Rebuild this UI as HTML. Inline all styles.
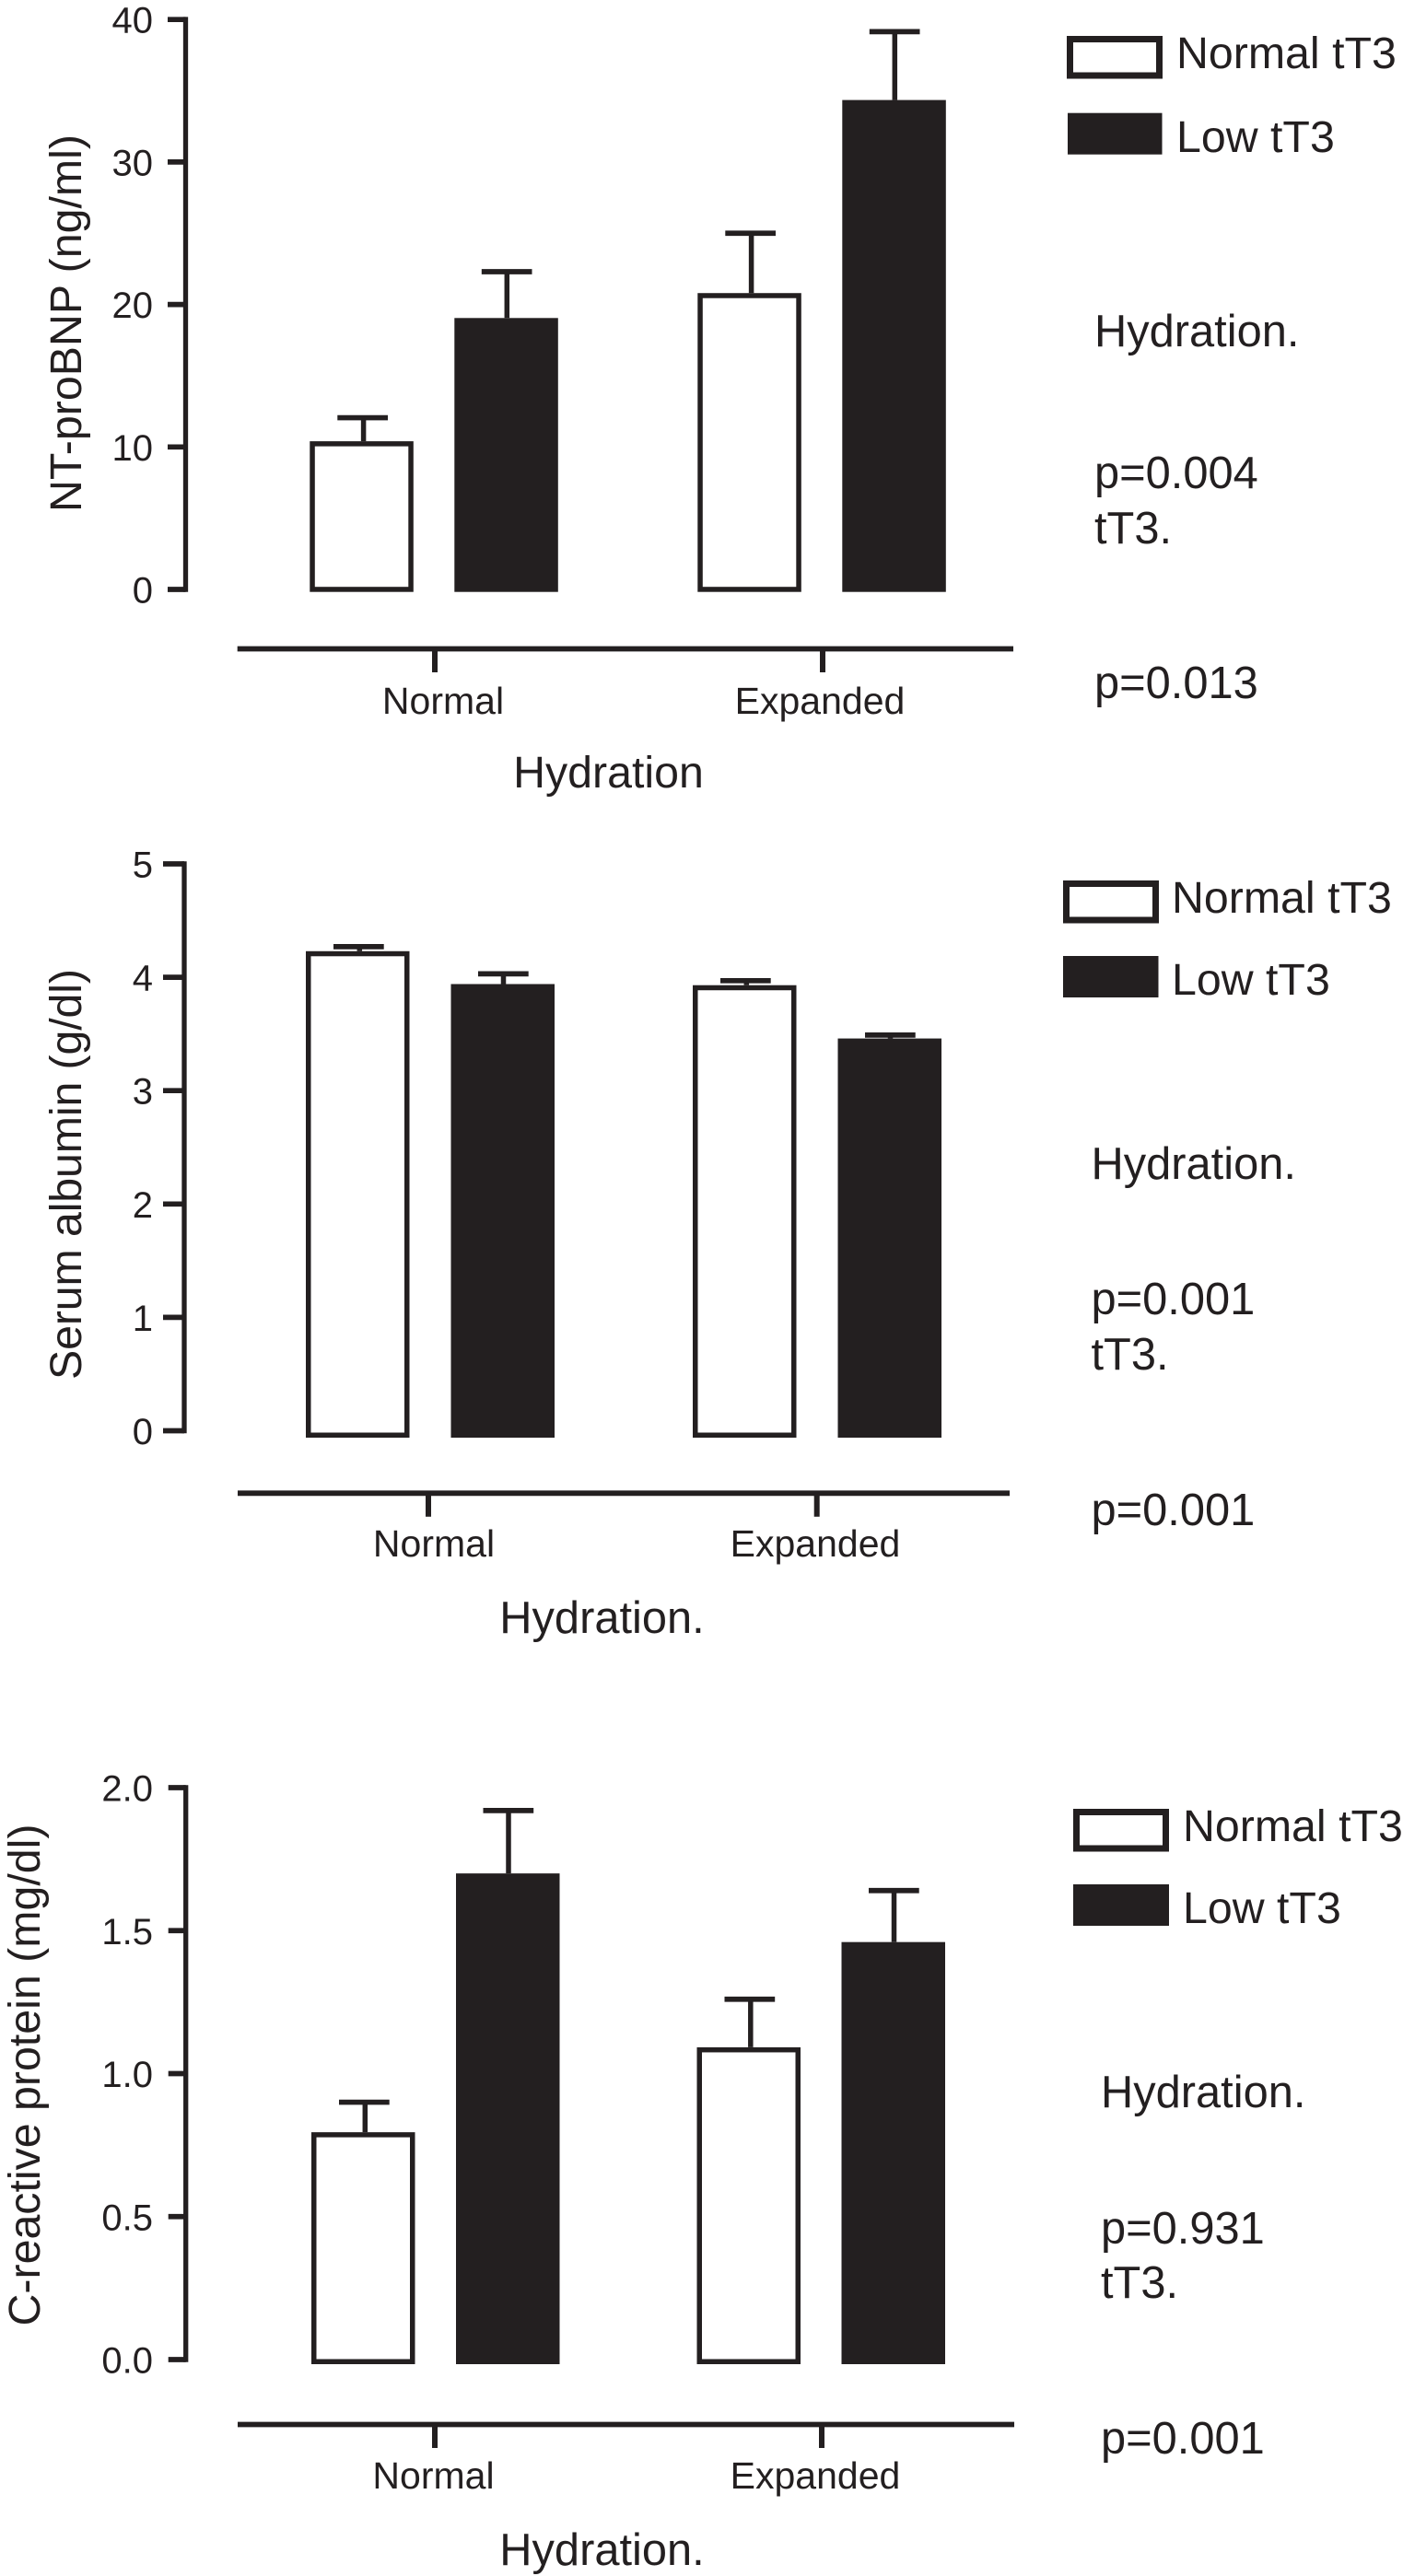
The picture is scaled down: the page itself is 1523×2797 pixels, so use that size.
<!DOCTYPE html>
<html lang="en">
<head>
<meta charset="utf-8">
<title>Hydration and tT3 bar charts</title>
<style>
html,body{margin:0;padding:0;background:#fff;}
svg{display:block;}
text{font-family:"Liberation Sans",Arial,sans-serif;fill:#231f20;}
.lg{font-size:48.3px;}
.st{font-size:48.8px;}
.sm{font-size:40px;}
.cat{font-size:41px;}
</style>
</head>
<body>
<svg id="figure" width="1523" height="2797" viewBox="0 0 1523 2797" xmlns="http://www.w3.org/2000/svg">
  <rect x="0" y="0" width="1523" height="2797" fill="#fff"/>

  <g id="panel-bnp">
    <text class="lg" text-anchor="middle" textLength="410" transform="translate(88 351) rotate(-90)">NT-proBNP (ng/ml)</text>
    <text class="lg" text-anchor="middle" x="660.5" y="855">Hydration</text>
    <rect x="1161.5" y="42.5" width="97" height="39.5" fill="#fff" stroke="#231f20" stroke-width="7"/>
    <rect x="1159" y="122.7" width="102.5" height="45" fill="#231f20"/>
    <text class="lg" x="1277" y="74">Normal tT3</text>
    <text class="lg" x="1277" y="165">Low tT3</text>
    <text class="st" x="1188" y="376">Hydration.</text>
    <text class="st" x="1188" y="530">p=0.004</text>
    <text class="st" x="1188" y="590">tT3.</text>
    <text class="st" x="1188" y="758">p=0.013</text>
  </g>

  <g id="panel-albumin">
    <text class="lg" text-anchor="middle" textLength="446" transform="translate(88 1275) rotate(-90)">Serum albumin (g/dl)</text>
    <text class="st" text-anchor="middle" x="653.5" y="1773">Hydration.</text>
    <rect x="1157.5" y="959.5" width="97" height="39.5" fill="#fff" stroke="#231f20" stroke-width="7"/>
    <rect x="1154" y="1038" width="103.5" height="45" fill="#231f20"/>
    <text class="lg" x="1272" y="991">Normal tT3</text>
    <text class="lg" x="1272" y="1080">Low tT3</text>
    <text class="st" x="1184.5" y="1280">Hydration.</text>
    <text class="st" x="1184.5" y="1427">p=0.001</text>
    <text class="st" x="1184.5" y="1487">tT3.</text>
    <text class="st" x="1184.5" y="1656">p=0.001</text>
  </g>

  <g id="panel-crp">
    <text class="lg" text-anchor="middle" textLength="545" transform="translate(43 2253) rotate(-90)">C-reactive protein (mg/dl)</text>
    <text class="st" text-anchor="middle" x="653.5" y="2785">Hydration.</text>
    <rect x="1168.5" y="1967.5" width="97" height="39.5" fill="#fff" stroke="#231f20" stroke-width="7"/>
    <rect x="1165" y="2046" width="104" height="45" fill="#231f20"/>
    <text class="lg" x="1284" y="1999">Normal tT3</text>
    <text class="lg" x="1284" y="2088">Low tT3</text>
    <text class="st" x="1195" y="2288">Hydration.</text>
    <text class="st" x="1195" y="2436">p=0.931</text>
    <text class="st" x="1195" y="2495">tT3.</text>
    <text class="st" x="1195" y="2664">p=0.001</text>
  </g>
</svg>

<script>
// Shared categories
const hydrationCategories = ['Normal', 'Expanded'];

// NT-proBNP (ng/ml)
const bnpTicks = ['0', '10', '20', '30', '40'];
const bnpNormal = [10.4, 20.8];
const bnpLow = [19.05, 34.35];
const bnpNormalUpper = [12.05, 25.0];
const bnpLowUpper = [22.3, 39.15];

// Serum albumin (g/dl)
const albuminTicks = ['0', '1', '2', '3', '4', '5'];
const albuminNormal = [4.23, 3.93];
const albuminLow = [3.94, 3.46];
const albuminNormalUpper = [4.27, 3.97];
const albuminLowUpper = [4.03, 3.49];

// C-reactive protein (mg/dl)
const crpTicks = ['0.0', '0.5', '1.0', '1.5', '2.0'];
const crpNormal = [0.795, 1.092];
const crpLow = [1.7, 1.46];
const crpNormalUpper = [0.9, 1.26];
const crpLowUpper = [1.92, 1.64];

const INK = '#231f20';
const SVG_NS = 'http://www.w3.org/2000/svg';

function make(tag, parent, attrs) {
  const el = document.createElementNS(SVG_NS, tag);
  for (const k in attrs) el.setAttribute(k, attrs[k]);
  parent.appendChild(el);
  return el;
}

function drawPanel(groupId, ticks, normal, low, normalUpper, lowUpper, geo) {
  const g = document.getElementById(groupId);
  const tickValues = ticks.map(Number);
  const yMin = tickValues[0];
  const yMax = tickValues[tickValues.length - 1];
  // value axis
  const yScale = v => geo.yZero + (v - yMin) / (yMax - yMin) * (geo.yTop - geo.yZero);
  // categorical axis: each group has a centre and two bar slots
  const xCenter = i => geo.groupStart + i * geo.groupStep;

  const axis = make('line', g, {x1: geo.axisX, x2: geo.axisX, y1: yScale(yMax) - 2.8, y2: yScale(yMin) + geo.axisDrop, stroke: INK, 'stroke-width': 5.3});
  
  

  tickValues.forEach((v, i) => {
    const tick = make('line', g, {x1: geo.axisX - geo.tickLen, x2: geo.axisX, y1: yScale(v), y2: yScale(v), stroke: INK, 'stroke-width': 5.7});
    
    
    const label = make('text', g, {x: 166, y: yScale(v) + 14.5, 'text-anchor': 'end', 'class': 'sm'});
    
    
    label.textContent = ticks[i];
  });

  const xLine = make('line', g, {x1: geo.xLineStart, x2: geo.xLineEnd, y1: geo.xLineY, y2: geo.xLineY, stroke: INK, 'stroke-width': 5.8});
  
  

  hydrationCategories.forEach((cat, i) => {
    const tx = geo.tickStart + i * geo.tickStep;
    const tick = make('line', g, {x1: tx, x2: tx, y1: geo.xLineY, y2: geo.xLineY + 25.5, stroke: INK, 'stroke-width': 6});
    
    
    const label = make('text', g, {x: geo.labelStart + i * geo.labelStep, y: geo.labelY, 'text-anchor': 'middle', 'class': 'cat'});
    
    
    label.textContent = cat;

    const barW = 112.5;
    const normalX = xCenter(i) - geo.normalOffset;
    const lowX = xCenter(i);
    const bottom = yScale(yMin) + geo.barDrop;

    // normal tT3 error bar + bar
    const stemN = make('line', g, {x1: normalX + 58.3, x2: normalX + 58.3, y1: yScale(normalUpper[i]), y2: yScale(normal[i]), stroke: INK, 'stroke-width': 5.5});
    
    
    const capN = make('line', g, {x1: normalX + 30, x2: normalX + 84.7, y1: yScale(normalUpper[i]), y2: yScale(normalUpper[i]), stroke: INK, 'stroke-width': 5.7});
    
    
    const barN = make('rect', g, {x: normalX + 2.75, y: yScale(normal[i]) + 2.75, width: barW - 5.5, height: bottom - yScale(normal[i]) - 5.5, fill: '#fff', stroke: INK, 'stroke-width': 5.5});
    
    

    // low tT3 error bar + bar
    const stemL = make('line', g, {x1: lowX + 57, x2: lowX + 57, y1: yScale(lowUpper[i]), y2: yScale(low[i]), stroke: INK, 'stroke-width': 5.5});
    
    
    const capL = make('line', g, {x1: lowX + 29.5, x2: lowX + 84.2, y1: yScale(lowUpper[i]), y2: yScale(lowUpper[i]), stroke: INK, 'stroke-width': 5.7});
    
    
    const barL = make('rect', g, {x: lowX, y: yScale(low[i]), width: barW, height: bottom - yScale(low[i]), fill: INK});
    
    
  });
}

drawPanel('panel-bnp', bnpTicks, bnpNormal, bnpLow, bnpNormalUpper, bnpLowUpper, {
  axisX: 201.5, yZero: 640, yTop: 21.2, tickLen: 19.5, axisDrop: 2.8, barDrop: 2.7,
  groupStart: 493.3, groupStep: 421, normalOffset: 157,
  xLineStart: 257.7, xLineEnd: 1100, xLineY: 704.5,
  tickStart: 472, tickStep: 421,
  labelStart: 481, labelStep: 409, labelY: 775
});

drawPanel('panel-albumin', albuminTicks, albuminNormal, albuminLow, albuminNormalUpper, albuminLowUpper, {
  axisX: 200, yZero: 1553.5, yTop: 938, tickLen: 23, axisDrop: 2.8, barDrop: 7.5,
  groupStart: 489.5, groupStep: 420, normalOffset: 157.5,
  xLineStart: 258, xLineEnd: 1096, xLineY: 1621.3,
  tickStart: 465, tickStep: 421.7,
  labelStart: 471, labelStep: 414, labelY: 1690
});

drawPanel('panel-crp', crpTicks, crpNormal, crpLow, crpNormalUpper, crpLowUpper, {
  axisX: 201.7, yZero: 2562, yTop: 1941, tickLen: 19, axisDrop: 2.8, barDrop: 5,
  groupStart: 495, groupStep: 418.5, normalOffset: 157,
  xLineStart: 258, xLineEnd: 1101, xLineY: 2632.5,
  tickStart: 472, tickStep: 420,
  labelStart: 470.5, labelStep: 414.5, labelY: 2702
});
</script>
</body>
</html>
